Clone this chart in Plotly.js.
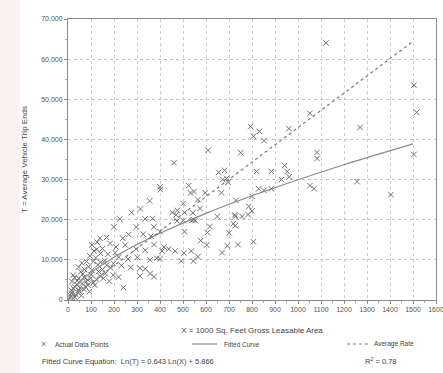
<!DOCTYPE html>
<html><head><meta charset="utf-8">
<script src="https://cdn.plot.ly/plotly-3.0.1.min.js"></script>
<style>html,body{margin:0;padding:0;background:#fff;}#chart{width:443px;height:373px;}</style>
</head><body><div id="chart"></div>
<script>
// Actual data points: X = 1000 sq ft GLA, T = average vehicle trip ends
const pointsX = [1122,1504,1516,1504,1270,1052,1083,1083,1257,1052,1070,1404,
 794,806,832,852,960,609,751,655,681,690,673,696,820,884,942,953,962,928,829,852,884,667,597,565,730,800,786,800,783,757,727,649,727,617,574,545,548,
 461,400,525,533,501,475,507,470,368,501,539,553,400,507,374,417,438,409,466,504,536,565,493,545,400,374,577,606,670,693,739,719,725,806,
 701,603,357,336,313,
 401,355,315,277,335,225,474,373,199,297,453,543,
 139,168,238,264,327,360,104,127,183,209,249,296,336,113,142,174,220,261,301,386,81,110,142,168,197,232,273,313,46,72,104,133,162,197,220,357,23,46,70,99,125,154,180,241,17,38,61,87,116,23,46,70,93,17,35,58,9,23,
 30,52,40,65,90,120,55,80,100,130,150,95,60,28,15,45,75,110,140,160,185,205,12,30,50,85,125,150];
const pointsT = [64000,53500,46750,36250,43000,46500,36750,35250,29500,28500,27750,26250,
 43200,40800,42000,39700,42700,37300,36700,31800,32300,30300,30000,29300,32000,32000,33500,32000,30700,30000,27700,27300,27700,26700,26700,25000,24800,25800,23300,22200,21300,20800,20800,20800,18500,18300,22800,20000,27000,
 34200,28200,28500,26700,24000,22300,21800,21200,20300,19800,19800,19800,17000,17000,13800,13200,12700,12200,12200,11700,12200,10800,9700,9700,10300,5800,14800,16800,11800,13500,13800,19000,21200,14500,
 16700,13700,10000,7800,6000,
 27500,24700,22700,21800,20200,20200,19700,18200,18200,18200,21800,21700,
 15400,15600,15400,16300,16400,15900,13700,14400,14100,13200,13700,12700,12400,12200,11600,11400,10700,10200,10600,10400,9600,9600,9400,8700,9100,8600,8100,7900,8200,7600,7400,7100,6600,6200,5700,6600,6200,5400,5700,5400,5100,5400,4700,3100,4600,3900,4100,3700,3700,2900,2400,2600,2100,1700,1300,1100,600,400,
 3300,3000,4800,6500,8300,10500,7000,4500,6300,8800,12800,11000,9200,5600,2400,1800,3400,4300,5900,9800,8000,11800,1000,700,2200,5000,12600,7600];

// Fitted curve Ln(T) = 0.643 Ln(X) + 5.866, points as read/evaluated
const curveX = [10,25,50,100,200,300,400,600,800,1000,1200,1500];
const curveT = [1551,2796,4365,6817,10645,13818,16626,21577,25963,29960,33697,38891];
// Average rate line (42.94 trips per 1000 sq ft)
const rateX = [0,1500];
const rateT = [0,64410];

const xTickVals = [0,100,200,300,400,500,600,700,800,900,1000,1100,1200,1300,1400,1500,1600];
const yTickVals = [0,10000,20000,30000,40000,50000,60000,70000];

const legendLabels = ['Actual Data Points','Fitted Curve','Average Rate'];
const equationText = 'Fitted Curve Equation:  Ln(T) = 0.643 Ln(X) + 5.866';
const r2Text = 'R<sup>2</sup> = 0.78';

const W = 443, H = 373, L = 68, R = 7, T = 19, B = 73;
const pw = W - L - R, ph = H - T - B;
const px = v => (v - L) / pw;
const py = v => (H - B - v) / ph;
const font = 'Liberation Sans, Arial, sans-serif';
const txt = '#444';

const traces = [
  {x: pointsX, y: pointsT, type: 'scatter', mode: 'markers', name: legendLabels[0],
   marker: {symbol: 'x-thin-open', size: 5.5, color: '#707070', line: {width: 1, color: '#707070'}}},
  {x: curveX, y: curveT, type: 'scatter', mode: 'lines', name: legendLabels[1],
   line: {color: '#8a8a8a', width: 1.2, shape: 'spline'}},
  {x: rateX, y: rateT, type: 'scatter', mode: 'lines', name: legendLabels[2],
   line: {color: '#7a7a7a', width: 1.2, dash: 'dot'}}
];

const layout = {
  width: W, height: H, showlegend: false,
  margin: {l: L, r: R, t: T, b: B, pad: 0},
  paper_bgcolor: '#fff', plot_bgcolor: '#fff',
  font: {family: font, size: 7, color: txt},
  xaxis: {range: [0, 1600], tickvals: xTickVals, tickformat: 'd', ticklabeloverflow: 'allow',
    showline: true, linecolor: '#8c8c8c', linewidth: 1, mirror: true,
    showgrid: true, gridcolor: '#cccccc', griddash: 'dot', gridwidth: 1,
    ticks: 'outside', ticklen: 3, tickcolor: '#8c8c8c',
    tickfont: {size: 7, color: '#555'}, zeroline: false,
    minor: {dtick: 50, ticks: 'outside', ticklen: 2, tickcolor: '#aaa'},
    title: {text: 'X = 1000 Sq. Feet Gross Leasable Area', font: {size: 8, color: txt}, standoff: 14}},
  yaxis: {range: [0, 70000], tickvals: yTickVals, tickformat: ',d',
    showline: true, linecolor: '#8c8c8c', linewidth: 1, mirror: true,
    showgrid: true, gridcolor: '#c4c4c4', griddash: 'dot', gridwidth: 1,
    ticks: 'outside', ticklen: 3, tickcolor: '#8c8c8c',
    tickfont: {size: 7, color: '#555'}, zeroline: false,
    minor: {dtick: 5000, ticks: 'outside', ticklen: 2, tickcolor: '#aaa'},
    title: {text: 'T = Average Vehicle Trip Ends', font: {size: 8, color: txt}, standoff: 12}},
  shapes: [
    {type: 'rect', xref: 'paper', yref: 'paper', x0: px(0), x1: px(20), y0: py(H), y1: py(0),
     fillcolor: '#fbf0f2', line: {width: 0}, layer: 'below'},
    {type: 'line', xref: 'paper', yref: 'paper', x0: px(192), x1: px(217), y0: py(344), y1: py(344),
     line: {color: '#8a8a8a', width: 1.2}},
    {type: 'line', xref: 'paper', yref: 'paper', x0: px(347), x1: px(368), y0: py(344), y1: py(344),
     line: {color: '#7a7a7a', width: 1.2, dash: 'dot'}}
  ],
  annotations: [
    {xref: 'paper', yref: 'paper', x: px(43), y: py(344), text: '×', showarrow: false,
     xanchor: 'center', yanchor: 'middle', font: {size: 9, color: '#777'}},
    {xref: 'paper', yref: 'paper', x: px(53), y: py(344), text: legendLabels[0], showarrow: false,
     xanchor: 'left', yanchor: 'middle', font: {size: 6.5, color: txt}},
    {xref: 'paper', yref: 'paper', x: px(222), y: py(344), text: legendLabels[1], showarrow: false,
     xanchor: 'left', yanchor: 'middle', font: {size: 6.5, color: txt}},
    {xref: 'paper', yref: 'paper', x: px(372), y: py(344), text: legendLabels[2], showarrow: false,
     xanchor: 'left', yanchor: 'middle', font: {size: 6.5, color: txt}},
    {xref: 'paper', yref: 'paper', x: px(40), y: py(361), text: equationText, showarrow: false,
     xanchor: 'left', yanchor: 'middle', font: {size: 7.5, color: txt}},
    {xref: 'paper', yref: 'paper', x: px(363), y: py(361), text: r2Text, showarrow: false,
     xanchor: 'left', yanchor: 'middle', font: {size: 7.5, color: txt}}
  ]
};
Plotly.newPlot('chart', traces, layout, {staticPlot: true, displayModeBar: false});
</script></body></html>
